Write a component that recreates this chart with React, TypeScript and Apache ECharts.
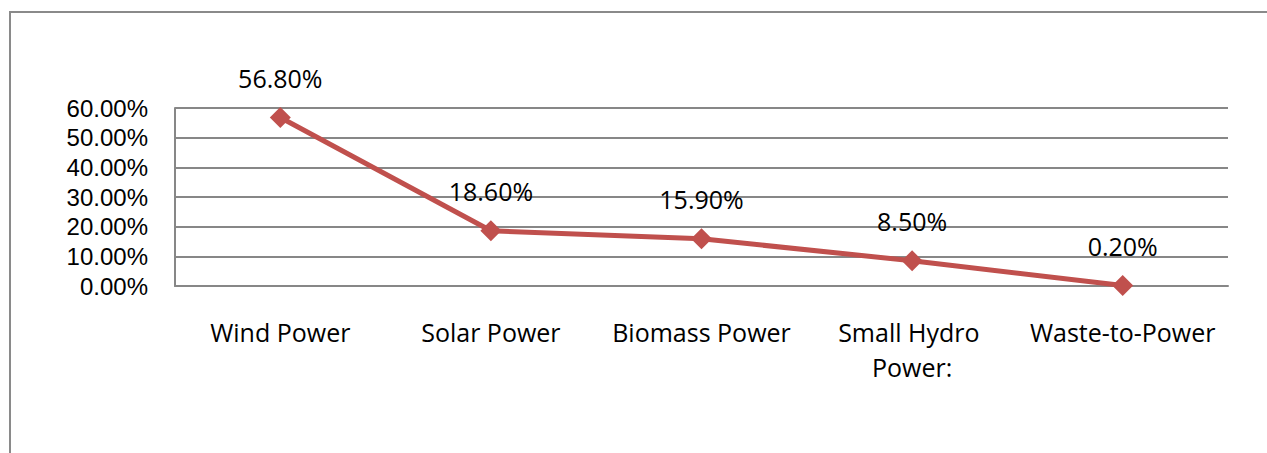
import React, { useEffect, useRef } from "react";
import * as echarts from "echarts";

const categories = ["Wind Power", "Solar Power", "Biomass Power", "Small Hydro Power:", "Waste-to-Power"];
const shares = [56.8, 18.6, 15.9, 8.5, 0.2];
const yTicks = [0, 10, 20, 30, 40, 50, 60];

const FONT = "'Open Sans', sans-serif";
const AXIS_FONT = "'Liberation Sans', Arial, sans-serif";

export default function App() {
  const ref = useRef<HTMLDivElement>(null);
  useEffect(() => {
    document.body.style.margin = "0";
    if (!ref.current) return;
    const chart = echarts.init(ref.current, undefined, { renderer: "svg" });
    const gridColor = "#878787";
    chart.setOption({
      animation: false,
      backgroundColor: "#ffffff",
      textStyle: { fontFamily: FONT },
      graphic: [
        {
          type: "rect",
          shape: { x: 10, y: 12, width: 1300, height: 500 },
          style: { fill: "none", stroke: "#8a8a8a", lineWidth: 2 },
          silent: true,
        },
      ],
      grid: { left: 175, top: 108, right: 39, bottom: 167, containLabel: false },
      xAxis: {
        type: "category",
        data: categories,
        boundaryGap: true,
        axisLine: { show: true, lineStyle: { color: gridColor, width: 2 } },
        axisTick: { show: false },
        axisLabel: {
          interval: 0,
          color: "#000",
          fontFamily: FONT,
          fontSize: 25,
          lineHeight: 35,
          margin: 28,
          width: 206,
          overflow: "break",
        },
      },
      yAxis: {
        type: "value",
        min: yTicks[0],
        max: yTicks[yTicks.length - 1],
        interval: 10,
        axisLine: { show: true, lineStyle: { color: gridColor, width: 2 } },
        axisTick: { show: false },
        splitLine: { show: true, lineStyle: { color: gridColor, width: 2 } },
        axisLabel: {
          color: "#000",
          fontFamily: AXIS_FONT,
          fontSize: 24,
          lineHeight: 26,
          margin: 27,
          formatter: (v: number) => v.toFixed(2) + "%",
        },
      },
      series: [
        {
          type: "line",
          data: shares,
          symbol: "diamond",
          symbolSize: 21,
          lineStyle: { color: "#C0504D", width: 5 },
          itemStyle: { color: "#C0504D" },
          label: {
            show: true,
            position: "top",
            distance: 14,
            color: "#000",
            fontFamily: FONT,
            fontSize: 25,
            lineHeight: 30,
            formatter: (p: any) => Number(p.value).toFixed(2) + "%",
          },
        },
      ],
    });
    return () => chart.dispose();
  }, []);
  return <div ref={ref} style={{ width: 1267, height: 453 }} />;
}
